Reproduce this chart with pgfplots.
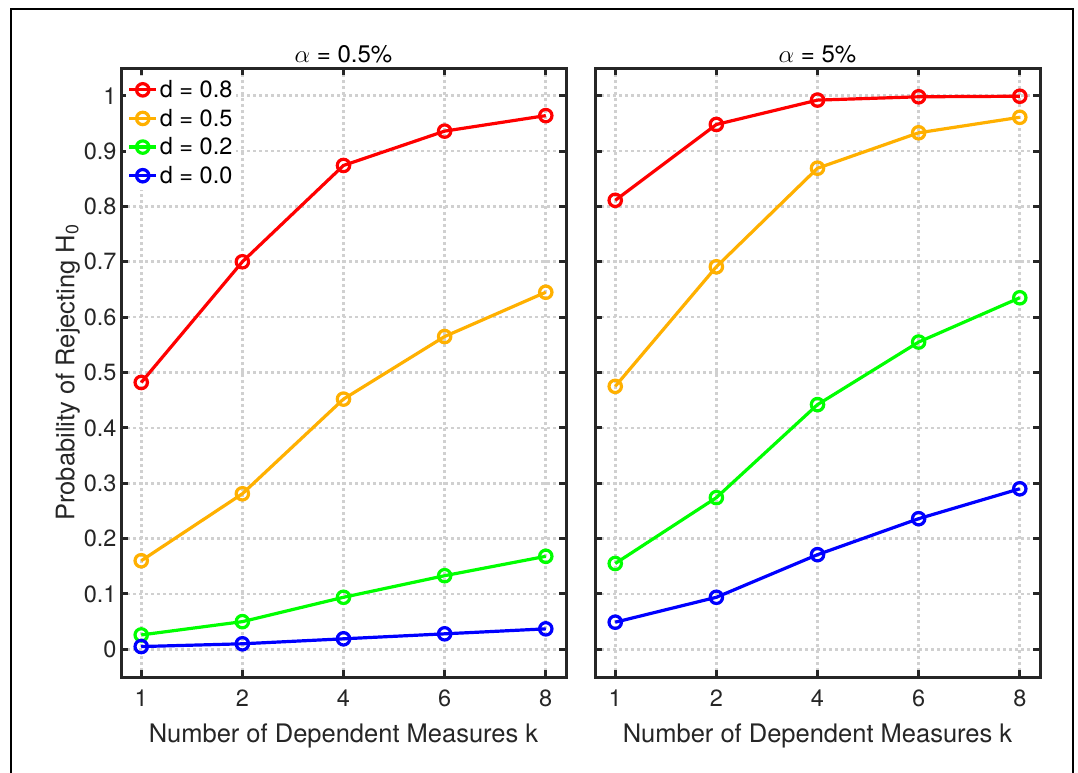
\documentclass[border=0pt]{standalone}
\usepackage{fontspec}
\setmainfont{TeX Gyre Heros}
\usepackage{pgfplots}
\pgfplotsset{compat=1.18}
\definecolor{axgray}{HTML}{262626}
\definecolor{gridgray}{HTML}{D0D0D0}
\definecolor{mred}{rgb}{1,0,0}
\definecolor{morange}{HTML}{FFB000}
\definecolor{mgreen}{rgb}{0,1,0}
\definecolor{mblue}{rgb}{0,0,1}

\pgfplotsset{
  matstyle/.style={
    scale only axis, width=445pt, height=609pt,
    xmin=-0.2, xmax=4.2, ymin=-0.05, ymax=1.05,
    xtick={0,1,2,3,4}, xticklabels={1,2,4,6,8},
    ytick={0,0.1,0.2,0.3,0.4,0.5,0.6,0.7,0.8,0.9,1},
    grid=major,
    major grid style={color=gridgray, line width=2.6pt, dash pattern=on 2.6pt off 3.4pt},
    axis line style={color=axgray, line width=3pt},
    tick align=inside,
    major tick length=7pt,
    tick style={color=axgray, line width=3pt},
    ticklabel style={font=\fontsize{23.5}{27}\selectfont, text=axgray},
    xticklabel style={yshift=-9pt},
    yticklabel style={xshift=-1pt},
    xlabel={Number of Dependent Measures k},
    xlabel style={font=\fontsize{25.5}{30}\selectfont, text=axgray},
    xlabel shift=10pt,
    title style={font=\fontsize{24}{27}\selectfont, yshift=-5pt},
    every axis plot/.append style={line width=3.2pt, mark=o, mark size=6.2pt, mark options={solid, line width=3.2pt}},
    clip=false,
  }
}

\begin{document}
\begin{tikzpicture}
\useasboundingbox (0pt,0pt) rectangle (1078pt,-772pt);
\fill[white] (0pt,0pt) rectangle (1078pt,-772pt);
\draw[line width=1.2pt, black] (11pt,-775pt) -- (11pt,-9pt) -- (1073pt,-9pt) -- (1073pt,-775pt);

\begin{axis}[matstyle,
  at={(121pt,-677pt)}, anchor=south west,
  title={$\alpha$ = 0.5\%},
  yticklabels={0,0.1,0.2,0.3,0.4,0.5,0.6,0.7,0.8,0.9,1},
  ylabel={Probability of Rejecting H\textsubscript{0}},
  ylabel style={font=\fontsize{25.5}{30}\selectfont, text=axgray},
  ylabel shift=-3pt,
  legend style={at={(0.01,0.988)}, anchor=north west, draw=none, fill=white,
    font=\fontsize{23.5}{26}\selectfont, legend cell align=left, row sep=6pt,
    inner xsep=2pt, inner ysep=3pt},
  legend image code/.code={\draw[mark repeat=2, mark phase=2] plot coordinates {(0pt,0pt) (13.5pt,0pt) (27pt,0pt)};},
]
\addplot[color=mred] coordinates {(0,0.482) (1,0.700) (2,0.874) (3,0.936) (4,0.964)};
\addlegendentry{d = 0.8}
\addplot[color=morange] coordinates {(0,0.160) (1,0.281) (2,0.452) (3,0.565) (4,0.645)};
\addlegendentry{d = 0.5}
\addplot[color=mgreen] coordinates {(0,0.026) (1,0.050) (2,0.094) (3,0.133) (4,0.168)};
\addlegendentry{d = 0.2}
\addplot[color=mblue] coordinates {(0,0.005) (1,0.010) (2,0.019) (3,0.028) (4,0.037)};
\addlegendentry{d = 0.0}
\end{axis}

\begin{axis}[matstyle,
  at={(595pt,-677pt)}, anchor=south west,
  title={$\alpha$ = 5\%},
  yticklabels={},
]
\addplot[color=mred] coordinates {(0,0.811) (1,0.948) (2,0.992) (3,0.998) (4,0.999)};
\addplot[color=morange] coordinates {(0,0.475) (1,0.691) (2,0.869) (3,0.933) (4,0.961)};
\addplot[color=mgreen] coordinates {(0,0.155) (1,0.274) (2,0.442) (3,0.555) (4,0.635)};
\addplot[color=mblue] coordinates {(0,0.049) (1,0.094) (2,0.171) (3,0.236) (4,0.290)};
\end{axis}
\end{tikzpicture}
\end{document}
